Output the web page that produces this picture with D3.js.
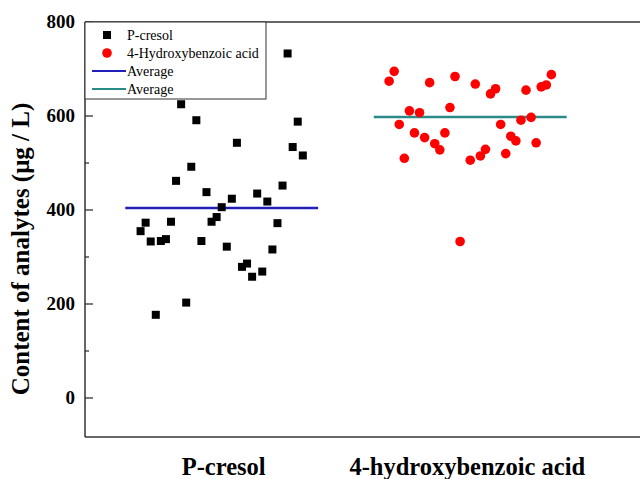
<!DOCTYPE html>
<html>
<head>
<meta charset="utf-8">
<script src="https://cdn.jsdelivr.net/npm/d3@7"></script>
<style>
  body { margin: 0; background: #fff; }
  text { font-family: "Liberation Serif", "Times New Roman", serif; }
</style>
</head>
<body>
<div id="chart"></div>
<script>
// Data (sample order = x order)
const categories = ['P-cresol', '4-hydroxybenzoic acid'];
const pcresol = [355, 373, 333, 177, 334, 338, 375, 462, 625, 203, 492, 591, 334, 438, 375, 385,
  406, 322, 424, 543, 279, 286, 258, 435, 269, 418, 316, 372, 452, 733, 534, 588, 516];
// slot 16 has no point in the picture
const hydroxy = [674, 695, 582, 510, 611, 564, 607, 554, 671, 541, 528, 564, 618, 684, 333, null,
  506, 668, 515, 529, 647, 658, 582, 520, 557, 547, 591, 655, 597, 543, 662, 666, 688];
const averages = [404, 598];
const yTicks = [0, 200, 400, 600, 800];
const legendLabels = ['P-cresol', '4-Hydroxybenzoic acid', 'Average', 'Average'];

const W = 640, H = 479;
const M = { left: 85, right: 2, top: 22, bottom: 42 };

const svg = d3.select('#chart').append('svg')
  .attr('width', W)
  .attr('height', H);

const x = d3.scaleLinear().domain([0.45, 2.675]).range([M.left, W - M.right]);
const y = d3.scaleLinear().domain([-83, 800]).range([H - M.bottom, M.top]);

const step = 0.0204;   // spacing between samples in one group
const halfLine = 0.388; // half length of average line

function xpos (g, i, n) {
  return x(g + 1 + (i - (n - 1) / 2) * step);
}

// frame: left, top, bottom (no right edge)
const frame = svg.append('g').attr('stroke', '#333').attr('stroke-width', 1.5).attr('fill', 'none');
frame.append('line').attr('x1', M.left).attr('x2', M.left).attr('y1', M.top).attr('y2', H - M.bottom);
frame.append('line').attr('x1', M.left).attr('x2', W).attr('y1', M.top).attr('y2', M.top);
frame.append('line').attr('x1', M.left).attr('x2', W).attr('y1', H - M.bottom).attr('y2', H - M.bottom);

// y ticks inward
const ticks = svg.append('g');
d3.range(0, 801, 100).forEach(v => {
  ticks.append('line')
    .attr('x1', M.left).attr('x2', M.left + (v % 200 == 0 ? 8 : 4))
    .attr('y1', y(v)).attr('y2', y(v))
    .attr('stroke', '#333').attr('stroke-width', 1.3);
});
yTicks.forEach(v => {
  ticks.append('text')
    .attr('x', 75).attr('y', y(v) + 6)
    .attr('text-anchor', 'end')
    .attr('font-size', 19).attr('font-weight', 'bold')
    .text(v);
});

svg.append('text')
  .attr('transform', 'translate(29,249)rotate(-90)')
  .attr('text-anchor', 'middle')
  .attr('font-size', 25).attr('font-weight', 'bold')
  .text('Content of analytes (\u03bcg / L)');

categories.forEach((c, g) => {
  svg.append('text')
    .attr('x', x(g + 1) + (g == 0 ? 2 : -3)).attr('y', 475)
    .attr('text-anchor', 'middle')
    .attr('font-size', 24.5).attr('font-weight', 'bold')
    .text(c);
});

// average lines
const lineColors = ['#2020b8', '#2a8a86'];
averages.forEach((a, g) => {
  svg.append('line')
    .attr('x1', x(g + 1 - halfLine)).attr('x2', x(g + 1 + halfLine))
    .attr('y1', y(a)).attr('y2', y(a))
    .attr('stroke', lineColors[g]).attr('stroke-width', 2.5);
});

// points
const sq = 8;
svg.append('g').selectAll('rect')
  .data(pcresol)
  .join('rect')
  .attr('x', (d, i) => xpos(0, i, pcresol.length) - sq / 2)
  .attr('y', d => y(d) - sq / 2)
  .attr('width', sq).attr('height', sq)
  .attr('fill', '#000');

svg.append('g').selectAll('circle')
  .data(hydroxy.map((v, i) => ({ v, i })).filter(d => d.v != null))
  .join('circle')
  .attr('cx', d => xpos(1, d.i, hydroxy.length))
  .attr('cy', d => y(d.v))
  .attr('r', 4.8)
  .attr('fill', '#f00');

// legend
const lg = svg.append('g');
lg.append('rect')
  .attr('x', M.left).attr('y', M.top)
  .attr('width', 181).attr('height', 77)
  .attr('fill', '#fff').attr('stroke', '#333').attr('stroke-width', 1);
const rows = [35, 53, 71, 89];
lg.append('rect').attr('x', 103).attr('y', rows[0] - 4).attr('width', sq).attr('height', sq).attr('fill', '#000');
lg.append('circle').attr('cx', 107).attr('cy', rows[1]).attr('r', 4.8).attr('fill', '#f00');
lg.append('line').attr('x1', 92).attr('x2', 126).attr('y1', rows[2]).attr('y2', rows[2])
  .attr('stroke', lineColors[0]).attr('stroke-width', 2);
lg.append('line').attr('x1', 92).attr('x2', 126).attr('y1', rows[3]).attr('y2', rows[3])
  .attr('stroke', lineColors[1]).attr('stroke-width', 2);
legendLabels.forEach((t, i) => {
  lg.append('text')
    .attr('x', 127).attr('y', rows[i] + 5)
    .attr('font-size', 14)
    .text(t);
});
</script>
</body>
</html>
